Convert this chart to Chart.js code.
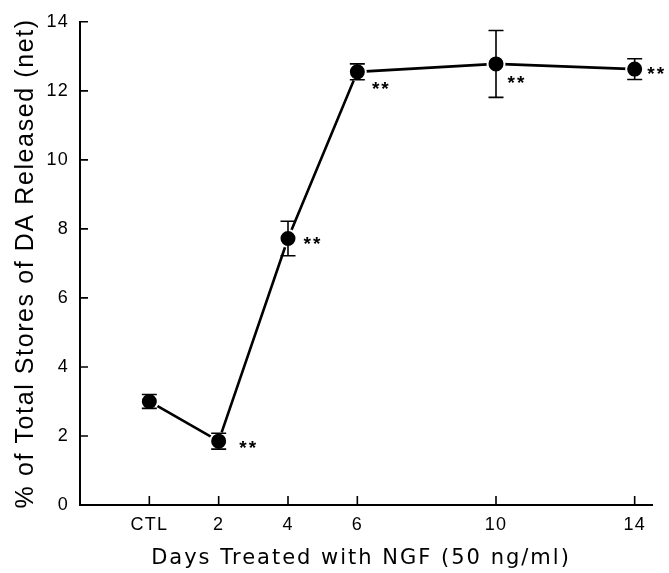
<!DOCTYPE html>
<html lang="en">
<head>
<meta charset="UTF-8" />
<title>DA released after NGF treatment</title>
<script src="https://cdn.jsdelivr.net/npm/chart.js"></script>
<style>
  html, body { margin: 0; padding: 0; background: #fff; }
  #wrap { width: 669px; height: 573px; position: relative; }
</style>
</head>
<body>
<div id="wrap"><canvas id="chart"></canvas></div>
<script>
// days of NGF treatment (0 = control)
const days = [0, 2, 4, 6, 10, 14];
const dayLabels = ['CTL', '2', '4', '6', '10', '14'];
// % of total DA stores released (net), mean and error
const released = [3.0, 1.85, 7.72, 12.55, 12.78, 12.63];
const errors = [0.2, 0.23, 0.5, 0.23, 0.97, 0.3];
const signif = ['', '**', '**', '**', '**', '**'];
const yTicks = [0, 2, 4, 6, 8, 10, 12, 14];

const xTitle = 'Days Treated with NGF (50 ng/ml)';
const yTitle = '% of Total Stores of DA Released (net)';

const FONT = '"Liberation Sans", Arial, sans-serif';
const WIDE_FONT = '"DejaVu Sans", Verdana, sans-serif';

// where the "**" goes relative to each point (pixels)
const starOffset = [[0, 0], [30, 3], [25, 1], [24, 13], [21, 15], [22, 1]];

const extras = {
  id: 'extras',
  beforeDraw(chart) {
    // the original lettering is widely spaced
    chart.ctx.letterSpacing = '1.2px';
  },
  afterDatasetsDraw(chart) {
    const { ctx, scales: { x, y }, chartArea } = chart;
    ctx.save();
    ctx.strokeStyle = '#000';
    ctx.fillStyle = '#000';

    // error bars
    ctx.lineWidth = 1.6;
    days.forEach((d, i) => {
      const px = x.getPixelForValue(d);
      const top = y.getPixelForValue(released[i] + errors[i]);
      const bot = y.getPixelForValue(released[i] - errors[i]);
      ctx.beginPath();
      ctx.moveTo(px, top); ctx.lineTo(px, bot);
      ctx.moveTo(px - 7.5, top); ctx.lineTo(px + 7.5, top);
      ctx.moveTo(px - 7.5, bot); ctx.lineTo(px + 7.5, bot);
      ctx.stroke();
    });

    // significance stars
    ctx.letterSpacing = '2px';
    ctx.font = 'bold 19px ' + FONT;
    ctx.textAlign = 'center';
    ctx.textBaseline = 'middle';
    days.forEach((d, i) => {
      if (!signif[i]) return;
      const px = x.getPixelForValue(d) + starOffset[i][0];
      const py = y.getPixelForValue(released[i]) + starOffset[i][1] + 5;
      ctx.fillText(signif[i], px, py);
    });

    // inward tick marks
    ctx.lineWidth = 1.6;
    ctx.beginPath();
    yTicks.forEach(v => {
      const py = y.getPixelForValue(v);
      ctx.moveTo(chartArea.left, py); ctx.lineTo(chartArea.left + 8, py);
    });
    days.forEach(d => {
      const px = x.getPixelForValue(d);
      ctx.moveTo(px, chartArea.bottom); ctx.lineTo(px, chartArea.bottom - 9);
    });
    ctx.stroke();
    ctx.restore();
  },
  afterDraw(chart) {
    const { ctx, chartArea } = chart;
    ctx.save();
    ctx.fillStyle = '#000';
    ctx.textAlign = 'center';
    ctx.textBaseline = 'alphabetic';

    // x axis title
    ctx.letterSpacing = '2px';
    ctx.font = '21px ' + WIDE_FONT;
    ctx.fillText(xTitle, (chartArea.left + chartArea.right) / 2 - 5, 564);

    // y axis title, rotated
    ctx.letterSpacing = '1.6px';
    ctx.font = '25px ' + FONT;
    ctx.translate(33, (chartArea.top + chartArea.bottom) / 2);
    ctx.rotate(-Math.PI / 2);
    ctx.fillText(yTitle, 0, 0);
    ctx.restore();
    ctx.letterSpacing = '0px';
  }
};

new Chart(document.getElementById('chart'), {
  type: 'line',
  data: {
    datasets: [{
      data: days.map((d, i) => ({ x: d, y: released[i] })),
      borderColor: '#000',
      borderWidth: 2.6,
      pointRadius: 8.5,
      pointBackgroundColor: '#000',
      pointBorderColor: '#fff',
      pointBorderWidth: 2,
      fill: false,
      tension: 0
    }]
  },
  options: {
    responsive: true,
    maintainAspectRatio: false,
    animation: false,
    layout: { padding: { top: 21, right: 17, left: 0, bottom: 0 } },
    plugins: { legend: { display: false }, tooltip: { enabled: false } },
    scales: {
      x: {
        type: 'linear',
        min: -2,
        max: 14.5,
        afterBuildTicks: s => { s.ticks = days.map(v => ({ value: v })); },
        afterFit: s => { s.height = 68; },
        grid: { display: false, drawTicks: false },
        border: { display: true, color: '#000', width: 2 },
        ticks: {
          autoSkip: false,
          maxRotation: 0,
          padding: 9,
          color: '#000',
          font: { family: FONT, size: 18 },
          callback: v => dayLabels[days.indexOf(v)]
        },
        title: { display: false }
      },
      y: {
        min: 0,
        max: 14,
        afterBuildTicks: s => { s.ticks = yTicks.map(v => ({ value: v })); },
        afterFit: s => { s.width = 80; },
        grid: { display: false, drawTicks: false },
        border: { display: true, color: '#000', width: 2 },
        ticks: {
          padding: 11,
          color: '#000',
          font: { family: FONT, size: 18 }
        },
        title: { display: false }
      }
    }
  },
  plugins: [extras]
});
</script>
</body>
</html>
